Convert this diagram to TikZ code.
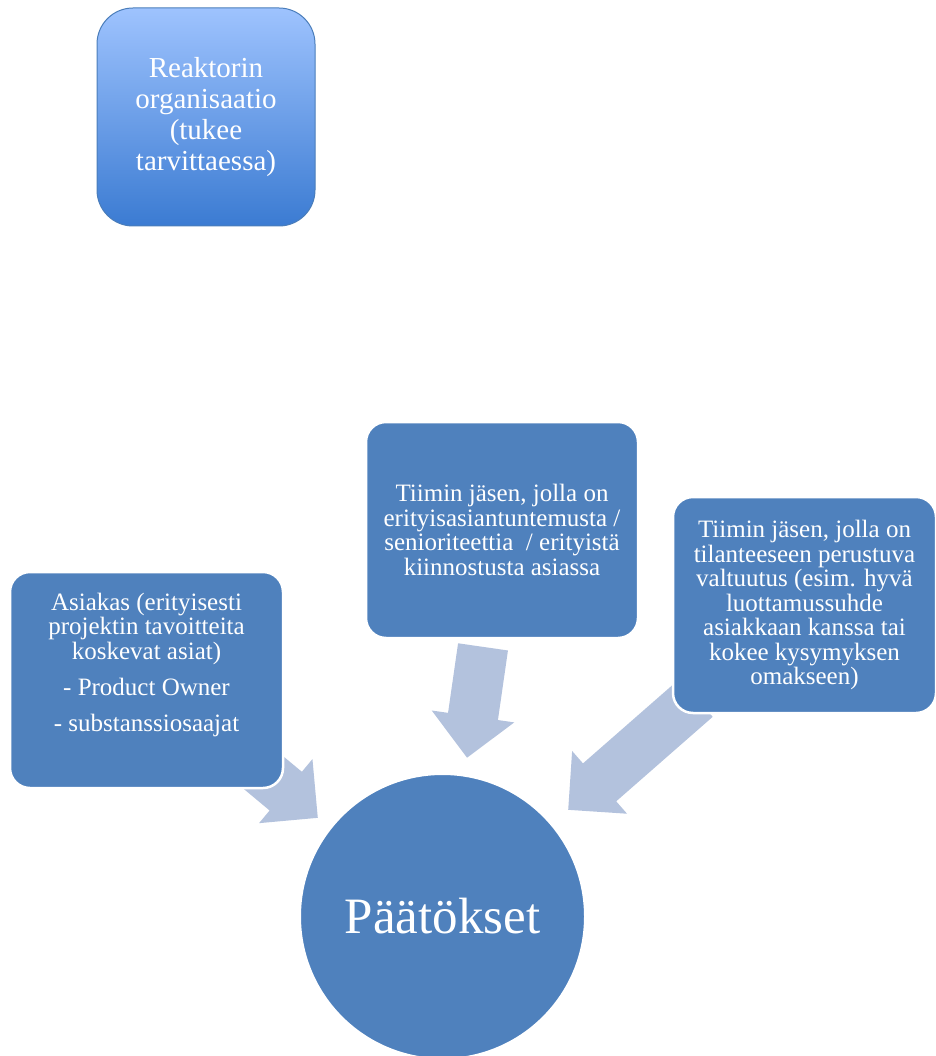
\documentclass[tikz,border=0pt]{standalone}
\usepackage{fontspec}
\setmainfont{Liberation Serif}
\usetikzlibrary{shapes.arrows}
\definecolor{boxblue}{HTML}{4F81BD}
\definecolor{arrowblue}{HTML}{B3C2DD}
\definecolor{topblue}{HTML}{9EC3FE}
\definecolor{botblue}{HTML}{3B7BD2}
\definecolor{edgeblue}{HTML}{4A7DBA}

\begin{document}
\begin{tikzpicture}[x=1pt,y=-1pt,
  box/.style={rectangle, rounded corners=20pt, fill=boxblue, draw=white, line width=2.5pt,
    text=white, align=center, font=\fontsize{25}{24.5}\selectfont},
  fatarrow/.style={single arrow, fill=arrowblue, anchor=tip, inner xsep=0pt, inner ysep=25pt,
    single arrow head extend=16.5pt}]
\useasboundingbox (0,0) rectangle (935,1056);

\node[fatarrow, minimum height=112pt, rotate=-98.2] (am) at (467,758) {};
\node[fatarrow, minimum height=170pt, rotate=221.2] (ar) at (568,810) {};
\node[fatarrow, minimum height=110pt, rotate=-39.8] (al) at (318,818) {};

\node[rectangle, rounded corners=36pt, top color=topblue, bottom color=botblue,
  draw=edgeblue, line width=1pt, minimum width=218pt, minimum height=218pt,
  text=white, align=center, font=\fontsize{29}{31}\selectfont] (r) at (206,117)
  {Reaktorin\\ organisaatio\\ (tukee\\ tarvittaessa)};

\node[box, minimum width=272pt, minimum height=216pt] (t) at (502,530)
  {Tiimin jäsen, jolla on\\ erityisasiantuntemusta /\\ senioriteettia\ \ / erityistä\\ kiinnostusta asiassa};
\node[box, minimum width=263pt, minimum height=216pt] (v) at (804.5,605)
  {Tiimin jäsen, jolla on\\ tilanteeseen perustuva\\ valtuutus (esim. hyvä\\ luottamussuhde\\ asiakkaan kanssa tai\\ kokee kysymyksen\\ omakseen)};
\node[box, minimum width=273pt, minimum height=216pt] (a) at (146.5,680)
  {Asiakas (erityisesti\\ projektin tavoitteita\\ koskevat asiat)\\[11.5pt] - Product Owner\\[11.5pt] - substanssiosaajat\\[11.5pt] \mbox{}};

\node[circle, fill=boxblue, draw=white, line width=2pt, minimum size=285pt, text=white,
  font=\fontsize{51}{60}\selectfont] (p) at (442.5,916.5) {Päätökset};
\end{tikzpicture}
\end{document}
